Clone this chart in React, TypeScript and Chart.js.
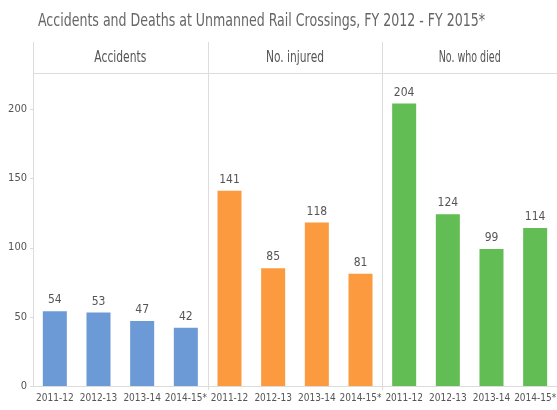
import React, { useEffect, useRef } from "react";
import { Chart, registerables } from "chart.js";

Chart.register(...registerables);

const TITLE = "Accidents and Deaths at Unmanned Rail Crossings, FY 2012 - FY 2015*";
const PANELS = ["Accidents", "No. injured", "No. who died"];
const YEARS = ["2011-12", "2012-13", "2013-14", "2014-15*"];
const ACCIDENTS = [54, 53, 47, 42];
const INJURED = [141, 85, 118, 81];
const DIED = [204, 124, 99, 114];
const Y_TICKS = [0, 50, 100, 150, 200];
const COLORS = ["#6b9ad6", "#fc9a3f", "#63bd55"];

const FONT = "'DejaVu Sans Condensed', 'DejaVu Sans', sans-serif";

function drawFitted(ctx: CanvasRenderingContext2D, text: string, cx: number, cy: number, size: number, width: number, color: string) {
  ctx.save();
  ctx.font = `${size}px ${FONT}`;
  const w = ctx.measureText(text).width;
  const sx = width / w;
  ctx.translate(cx, cy);
  ctx.scale(sx, 1);
  ctx.fillStyle = color;
  ctx.textAlign = "center";
  ctx.textBaseline = "middle";
  ctx.fillText(text, 0, 0);
  ctx.restore();
}

function panelBounds(chart: any, p: number) {
  const { chartArea } = chart;
  const x = chart.scales.x;
  const n = YEARS.length;
  const left = p === 0 ? chartArea.left : (x.getPixelForValue(p * n - 1) + x.getPixelForValue(p * n)) / 2;
  const right = p === PANELS.length - 1 ? chartArea.right : (x.getPixelForValue((p + 1) * n - 1) + x.getPixelForValue((p + 1) * n)) / 2;
  return [left, right];
}

const framePlugin = {
  id: "frame",
  beforeDatasetsDraw(chart: any) {
    const { ctx, chartArea } = chart;
    ctx.save();
    ctx.strokeStyle = "#dcdcdc";
    ctx.lineWidth = 1;
    ctx.beginPath();
    ctx.moveTo(chartArea.left, chartArea.top + 0.5);
    ctx.lineTo(chartArea.right, chartArea.top + 0.5);
    const y0 = chart.scales.y.getPixelForValue(0);
    ctx.moveTo(chartArea.left - 3, Math.round(y0) + 0.5);
    ctx.lineTo(chartArea.right, Math.round(y0) + 0.5);
    for (let p = 0; p < PANELS.length; p++) {
      const [left] = panelBounds(chart, p);
      const xx = Math.round(left) + 0.5;
      ctx.moveTo(xx, chartArea.top - 31);
      ctx.lineTo(xx, chartArea.bottom + (p === 0 ? 0 : 4));
    }
    for (const t of Y_TICKS) {
      const yy = Math.round(chart.scales.y.getPixelForValue(t)) + 0.5;
      ctx.moveTo(chartArea.left - 3, yy);
      ctx.lineTo(chartArea.left, yy);
    }
    ctx.stroke();
    ctx.restore();
  },
  afterDraw(chart: any) {
    const { ctx, chartArea } = chart;
    drawFitted(ctx, TITLE, 261.5, 21, 18, 447, "#666666");
    const headerWidths = [52, 58, 62];
    for (let p = 0; p < PANELS.length; p++) {
      const [left, right] = panelBounds(chart, p);
      drawFitted(ctx, PANELS[p], (left + right) / 2, chartArea.top - 15, 15, headerWidths[p], "#555555");
    }
    const meta = chart.getDatasetMeta(0);
    const data = chart.data.datasets[0].data;
    ctx.save();
    ctx.font = `12px ${FONT}`;
    ctx.fillStyle = "#555555";
    ctx.textAlign = "center";
    ctx.textBaseline = "bottom";
    meta.data.forEach((bar: any, i: number) => {
      ctx.fillText(String(data[i]), bar.x, bar.y - 5);
    });
    ctx.restore();
  },
};

export default function App() {
  const ref = useRef<HTMLCanvasElement>(null);
  useEffect(() => {
    const labels = [...YEARS, ...YEARS, ...YEARS];
    const values = [...ACCIDENTS, ...INJURED, ...DIED];
    const colors = labels.map((_, i) => COLORS[Math.floor(i / YEARS.length)]);
    const chart = new Chart(ref.current!, {
      type: "bar",
      data: {
        labels,
        datasets: [
          {
            data: values,
            backgroundColor: colors,
            borderWidth: 0,
            categoryPercentage: 1,
            barPercentage: 0.55,
          },
        ],
      },
      options: {
        responsive: false,
        animation: false,
        layout: { padding: { top: 73, left: 0, right: 0, bottom: 0 } },
        plugins: { legend: { display: false }, tooltip: { enabled: false }, title: { display: false } },
        scales: {
          x: {
            grid: { display: false, tickLength: 0, drawTicks: false },
            border: { display: false },
            ticks: {
              autoSkip: false,
              maxRotation: 0,
              minRotation: 0,
              padding: 6,
              color: "#555555",
              font: { family: FONT, size: 10 },
            },
            afterFit: (s: any) => {
              s.height = 24;
              s.paddingLeft = 0;
              s.paddingRight = 0;
            },
          },
          y: {
            min: 0,
            max: 226,
            grid: { display: false, tickLength: 0, drawTicks: false },
            border: { display: false },
            afterBuildTicks: (s: any) => {
              s.ticks = Y_TICKS.map((v) => ({ value: v }));
            },
            ticks: {
              padding: 6,
              color: "#555555",
              font: { family: FONT, size: 11 },
            },
            afterFit: (s: any) => {
              s.width = 33;
              s.paddingTop = 0;
              s.paddingBottom = 0;
            },
          },
        },
      },
      plugins: [framePlugin],
    });
    return () => chart.destroy();
  }, []);
  return (
    <div style={{ position: "fixed", left: 0, top: 0, width: 557, height: 410, background: "#fff" }}>
      <canvas ref={ref} width={557} height={410} />
    </div>
  );
}
